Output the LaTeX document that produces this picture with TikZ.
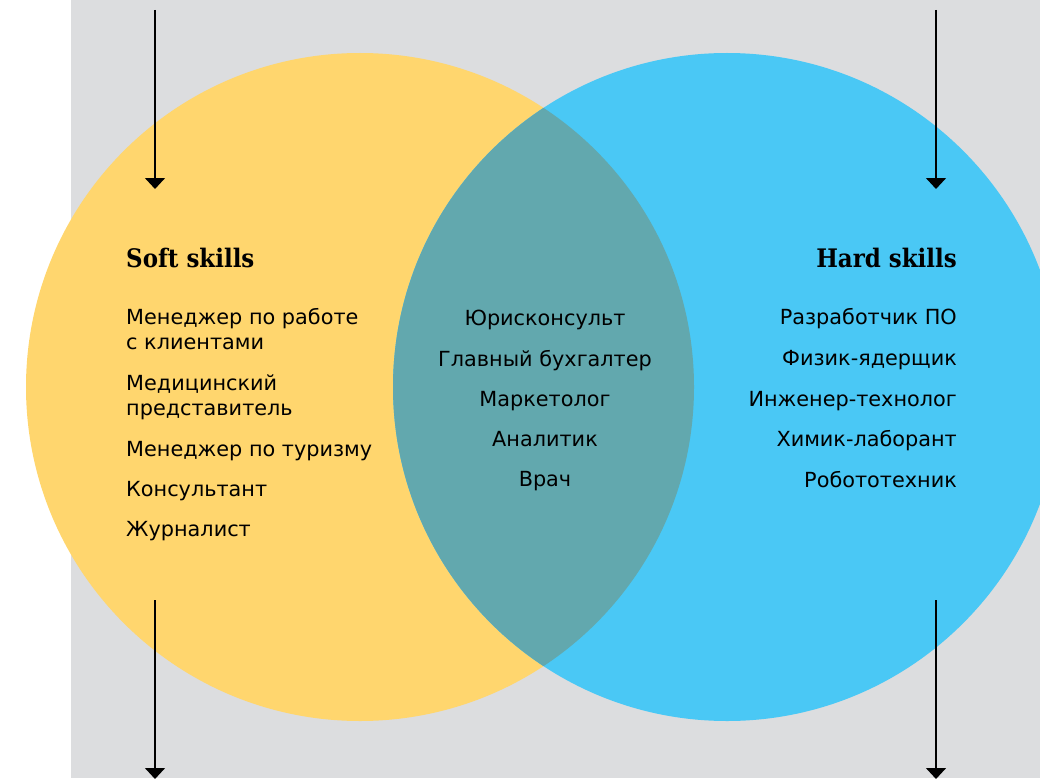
\documentclass[tikz,border=0pt]{standalone}
\usepackage{fontspec}
\setmainfont{DejaVu Sans}
\newfontfamily\headfont{DejaVu Serif Condensed}
\usepackage{xcolor}
\usetikzlibrary{arrows.meta}
\definecolor{paneGray}{HTML}{DCDDDF}
\definecolor{softYellow}{HTML}{FFD66E}
\definecolor{hardBlue}{HTML}{4AC8F5}
\definecolor{bothTeal}{HTML}{62A8AE}
\tikzset{
  head/.style={font=\headfont\bfseries\fontsize{25.5}{28}\selectfont, inner sep=0pt},
  job/.style={font=\fontsize{20.8}{25}\selectfont, inner sep=0pt, align=#1},
  job/.default=left,
  flow/.style={-{Triangle[width=20pt,length=11pt]}, line width=1.6pt}
}
\begin{document}
\begin{tikzpicture}[x=1pt,y=-1pt]
    \useasboundingbox (0,0) rectangle (1040,778);
    \fill[paneGray] (71,0) rectangle (1040,778);
    \begin{scope}
      \clip (0,0) rectangle (1040,778);
      \fill[softYellow] (360,387) circle (334);
      \fill[hardBlue] (727,387) circle (334);
      \clip (360,387) circle (334);
      \fill[bothTeal] (727,387) circle (334);
    \end{scope}
    % arrows
    \coordinate (softTop) at (155,10);
    \coordinate (softIn) at (155,189);
    \coordinate (softOut) at (155,600);
    \coordinate (softEnd) at (155,779);
    \coordinate (hardTop) at (936,10);
    \coordinate (hardIn) at (936,189);
    \coordinate (hardOut) at (936,600);
    \coordinate (hardEnd) at (936,779);
    \draw[flow] (softTop) -- (softIn);
    \draw[flow] (softOut) -- (softEnd);
    \draw[flow] (hardTop) -- (hardIn);
    \draw[flow] (hardOut) -- (hardEnd);
    % headings
    \node[head, anchor=base west] (soft) at (126,267) {Soft skills};
    \node[head, anchor=base east] (hard) at (957,267) {Hard skills};
    % soft column
    \node[job, anchor=base west] (s1) at (126,324) {Менеджер по работе};
    \node[job, anchor=base west] (s1b) at (126,349) {с клиентами};
    \node[job, anchor=base west] (s2) at (126,390) {Медицинский};
    \node[job, anchor=base west] (s2b) at (126,415) {представитель};
    \node[job, anchor=base west] (s3) at (126,456) {Менеджер по туризму};
    \node[job, anchor=base west] (s4) at (126,496) {Консультант};
    \node[job, anchor=base west] (s5) at (126,536) {Журналист};
    % both
    \node[job, anchor=base] (b1) at (545,325) {Юрисконсульт};
    \node[job, anchor=base] (b2) at (545,366) {Главный бухгалтер};
    \node[job, anchor=base] (b3) at (545,406) {Маркетолог};
    \node[job, anchor=base] (b4) at (545,446) {Аналитик};
    \node[job, anchor=base] (b5) at (545,486) {Врач};
    % hard column
    \node[job, anchor=base east] (h1) at (957,324) {Разработчик ПО};
    \node[job, anchor=base east] (h2) at (957,365) {Физик-ядерщик};
    \node[job, anchor=base east] (h3) at (957,406) {Инженер-технолог};
    \node[job, anchor=base east] (h4) at (957,446) {Химик-лаборант};
    \node[job, anchor=base east] (h5) at (957,487) {Робототехник};
\end{tikzpicture}
\end{document}
